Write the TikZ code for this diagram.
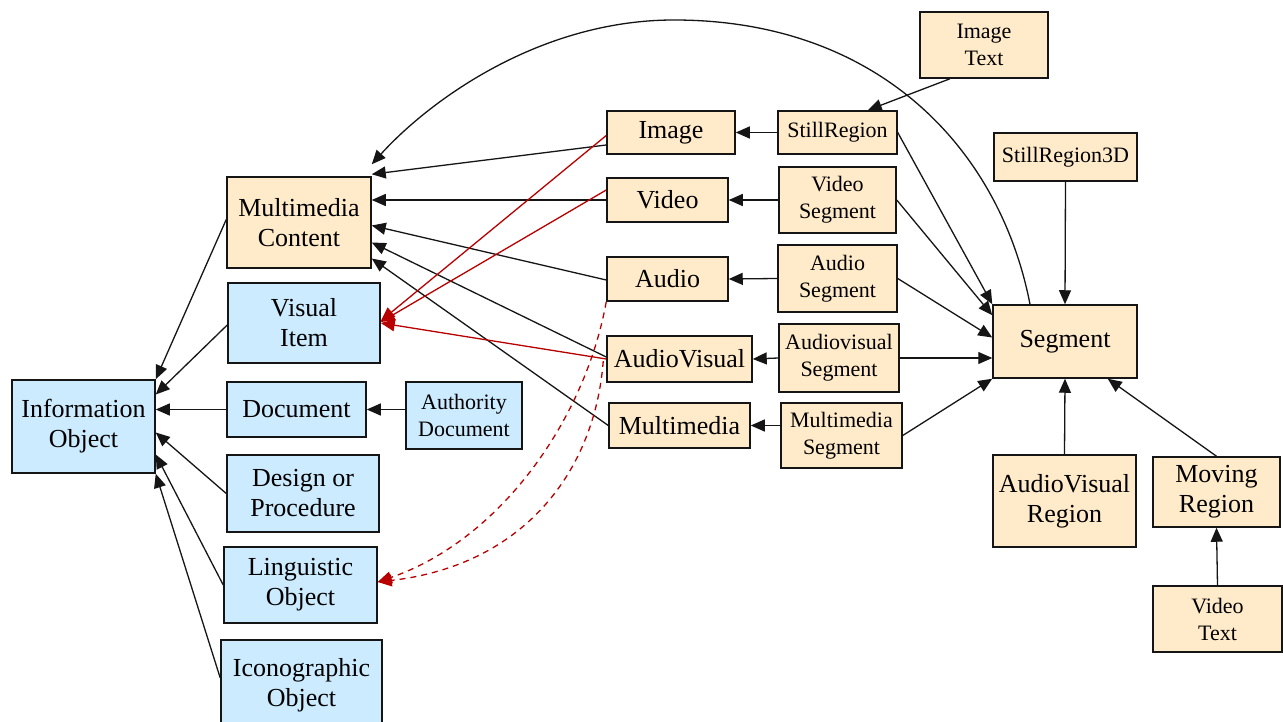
\documentclass[tikz,border=0pt]{standalone}
\usepackage{fontspec}
\setmainfont{Liberation Serif}
\usetikzlibrary{arrows.meta,calc}
\definecolor{beige}{HTML}{FFEBC9}
\definecolor{lblue}{HTML}{CCEBFF}
\definecolor{dred}{HTML}{B80000}
\definecolor{edge}{HTML}{151515}
\tikzset{
  box/.style={draw=edge, line width=1.5pt, inner sep=0pt, align=center, text=black},
  tan/.style={box, fill=beige},
  blu/.style={box, fill=lblue},
  big/.style={font=\fontsize{26}{30}\selectfont},
  sml/.style={font=\fontsize{22}{27}\selectfont},
  arr/.style={draw=edge, line width=1.3pt, -{Triangle[length=14pt,width=12pt]}},
  rarr/.style={draw=dred, line width=1.3pt, -{Triangle[length=14pt,width=12pt]}},
  rdash/.style={rarr, dash pattern=on 6pt off 5pt},
}
\begin{document}
\begin{tikzpicture}[x=1pt,y=-1pt]
\useasboundingbox (0,0) rectangle (1283,722);
\fill[white] (0,0) rectangle (1283,722);
\clip (0,0) rectangle (1283,722);
% left column
\node[blu,big,minimum width=143pt,minimum height=93pt] (info) at (83.5,426.5) {Information\\Object};
\node[tan,big,minimum width=144pt,minimum height=91pt] (mc) at (299,222.5) {Multimedia\\Content};
\node[blu,big,minimum width=152pt,minimum height=80pt] (vis) at (304,323) {Visual\\Item};
\node[blu,big,minimum width=139pt,minimum height=55pt] (doc) at (296.5,409.5) {Document};
\node[blu,big,minimum width=152pt,minimum height=77pt] (dp) at (303,493.5) {Design or\\Procedure};
\node[blu,big,minimum width=153pt,minimum height=76pt] (ling) at (300.5,585) {Linguistic\\Object};
\node[blu,big,minimum width=161pt,minimum height=90pt] (icon) at (301.5,685) {Iconographic\\Object};
\node[blu,sml,minimum width=116pt,minimum height=67pt] (auth) at (464,415.5) {Authority\\Document};
% middle column
\node[tan,big,minimum width=128pt,minimum height=43pt] (image) at (671,132.5) {Image};
\node[tan,big,minimum width=121pt,minimum height=44pt] (video) at (667.5,200) {Video};
\node[tan,big,minimum width=121pt,minimum height=44pt] (audio) at (667.5,279) {Audio};
\node[tan,big,minimum width=145pt,minimum height=46pt] (av) at (679.5,359) {AudioVisual};
\node[tan,big,minimum width=141pt,minimum height=45pt] (mm) at (679.5,425.5) {Multimedia};
% segment column
\node[tan,sml,minimum width=119pt,minimum height=43pt] (still) at (837.5,132.5) {StillRegion};
\node[tan,sml,minimum width=117pt,minimum height=66pt] (vseg) at (837.5,200) {Video\\Segment};
\node[tan,sml,minimum width=119pt,minimum height=67pt] (aseg) at (837.5,278.5) {Audio\\Segment};
\node[tan,sml,minimum width=120pt,minimum height=68pt] (avseg) at (839,358) {Audiovisual\\Segment};
\node[tan,sml,minimum width=121pt,minimum height=65pt] (mmseg) at (841.5,435.5) {Multimedia\\Segment};
% right
\node[tan,sml,minimum width=128pt,minimum height=66pt] (imgtext) at (984,45) {Image\\Text};
\node[tan,sml,minimum width=143pt,minimum height=48pt] (sr3d) at (1065.5,157) {StillRegion3D};
\node[tan,big,minimum width=144pt,minimum height=73pt] (seg) at (1065,341.5) {Segment};
\node[tan,big,minimum width=143pt,minimum height=92pt] (avreg) at (1064.5,501) {AudioVisual\\Region};
\node[tan,big,minimum width=127pt,minimum height=70pt] (movreg) at (1216.5,492) {Moving\\Region};
\node[tan,sml,minimum width=129pt,minimum height=66pt] (vtext) at (1217.5,619) {Video\\Text};
% left arrows to Information Object
\draw[arr] ($(mc.west)+(0,-3)$) -- (info.north east);
\draw[arr] ($(vis.west)+(0,2)$) -- ($(info.east)+(0,-32)$);
\draw[arr] (doc.west) -- ($(info.east)+(0,-17)$);
\draw[arr] (dp.west) -- ($(info.east)+(0,6)$);
\draw[arr] (ling.west) -- ($(info.east)+(0,28)$);
\draw[arr] ($(icon.west)+(0,-7)$) -- (info.south east);
\draw[arr] (auth.west |- doc.east) -- (doc.east);
% middle arrows to Multimedia Content
\draw[arr] ($(image.west)+(0,12.5)$) -- ($(mc.north east)+(0,-2)$);
\draw[arr] (video.west) -- (mc.east |- video.west);
\draw[arr] ($(audio.west)+(0,1)$) -- ($(mc.east)+(0,3)$);
\draw[arr] ($(av.west)+(0,-2)$) -- ($(mc.east)+(0,20)$);
\draw[arr] (mm.west) -- ($(mc.east)+(0,36)$);
% segment types to media
\draw[arr] (still.west) -- (image.east);
\draw[arr] (vseg.west) -- (video.east);
\draw[arr] (aseg.west) -- (audio.east);
\draw[arr] (avseg.west) -- (av.east);
\draw[arr] (mmseg.west |- mm.east) -- (mm.east);
% to Segment
\draw[arr] (still.east) -- (seg.north west);
\draw[arr] (vseg.east) -- ($(seg.north west)+(0,11)$);
\draw[arr] (aseg.east) -- ($(seg.west)+(0,-4)$);
\draw[arr] (avseg.east) -- (seg.west |- avseg.east);
\draw[arr] (mmseg.east) -- (seg.south west);
\draw[arr] (sr3d.south) -- (seg.north);
\draw[arr] (avreg.north) -- (seg.south);
\draw[arr] (movreg.north) -- ($(seg.south east)+(-30,0)$);
\draw[arr] (vtext.north) -- (movreg.south);
\draw[arr] ($(imgtext.south)+(-34,0)$) -- ($(still.north east)+(-30,0)$);
% big arc
\coordinate (arctop) at (674,20);
\draw[arr] ($(seg.north)+(-35,0)$) .. controls (1000,150) and (880,20) .. (arctop)
  .. controls (540,20) and (430,100) .. ($(mc.north east)+(0,-12)$);
% red links
\draw[rarr] ($(image.west)+(0,3)$) -- ($(vis.east)+(0,-2)$);
\draw[rarr] ($(video.west)+(0,-10)$) -- ($(vis.east)+(0,-1)$);
\draw[rarr] (av.west) -- (vis.east);
\draw[rdash] (audio.south west) .. controls (585,420) and (500,540) .. ($(ling.east)+(0,-3)$);
\draw[rdash] ($(av.west)+(-3,2)$) .. controls (595,470) and (525,565) .. ($(ling.east)+(0,-3)$);
\end{tikzpicture}
\end{document}
